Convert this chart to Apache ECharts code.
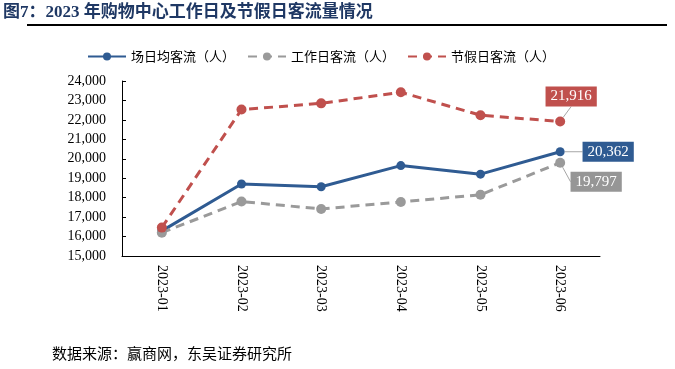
<!DOCTYPE html>
<html>
<head>
<meta charset="utf-8">
<script src="https://cdn.jsdelivr.net/npm/echarts@6/dist/echarts.min.js"></script>
<style>
  html, body { margin: 0; padding: 0; background: #fff; }
  #chart { width: 675px; height: 369px; }
</style>
</head>
<body>
<div id="chart"></div>
<script>
const months = ['2023-01', '2023-02', '2023-03', '2023-04', '2023-05', '2023-06'];
const avgDaily = [16290, 18700, 18560, 19650, 19210, 20362];
const workday = [16200, 17800, 17420, 17780, 18150, 19797];
const holiday = [16460, 22530, 22850, 23420, 22240, 21916];
const yTicks = [15000, 24000, 1000];

const serif = '"Liberation Serif", "Noto Sans CJK SC", serif';
const cjk = '"Noto Sans CJK SC", sans-serif';

// only the last point carries a value box
function withLastLabel(values, bg) {
  return values.map(function (v, i) {
    if (i !== values.length - 1) return v;
    return {
      value: v,
      label: {
        show: true,
        position: 'inside',
        formatter: function (p) { return p.value.toLocaleString('en-US'); },
        color: '#fff',
        fontFamily: serif,
        fontSize: 15,
        backgroundColor: bg,
        padding: [3, 5, 2, 5]
      }
    };
  });
}

function lastOffset(dx, dy) {
  return function (params) {
    if (params.dataIndex !== months.length - 1) return {};
    return { dx: dx, dy: dy };
  };
}

const chart = echarts.init(document.getElementById('chart'));
chart.setOption({
  animation: false,
  backgroundColor: '#fff',
  title: {
    text: '图7：2023 年购物中心工作日及节假日客流量情况',
    left: 3,
    top: 4,
    padding: 0,
    textStyle: { fontFamily: serif, fontSize: 17, fontWeight: 'bold', color: '#1f3864' }
  },
  graphic: [
    { type: 'line', shape: { x1: 27, y1: 25, x2: 667, y2: 25 }, style: { stroke: '#000', lineWidth: 2 } },
    { type: 'text', left: 52, top: 346, style: { text: '数据来源：赢商网，东吴证券研究所', font: '15px ' + cjk, fill: '#000' } }
  ],
  legend: {
    left: 82,
    top: 45,
    itemWidth: 38,
    itemHeight: 10,
    itemGap: 12,
    textStyle: { fontFamily: cjk, fontSize: 13, color: '#000' }
  },
  grid: { left: 122, right: 75, top: 81, bottom: 113, containLabel: false },
  xAxis: {
    type: 'category',
    data: months,
    boundaryGap: true,
    axisLine: { lineStyle: { color: '#000', width: 1 } },
    axisTick: { inside: true, length: 4, alignWithLabel: false, lineStyle: { color: '#000' } },
    axisLabel: { rotate: -90, margin: 9, color: '#000', fontFamily: serif, fontSize: 14 }
  },
  yAxis: {
    type: 'value',
    min: yTicks[0],
    max: yTicks[1],
    interval: yTicks[2],
    axisLine: { show: true, lineStyle: { color: '#000', width: 1 } },
    axisTick: { show: true, inside: true, length: 4, lineStyle: { color: '#000' } },
    splitLine: { show: false },
    axisLabel: {
      margin: 16,
      color: '#000',
      fontFamily: serif,
      fontSize: 14,
      formatter: function (v) { return v.toLocaleString('en-US'); }
    }
  },
  series: [
    {
      name: '场日均客流（人）',
      type: 'line',
      data: withLastLabel(avgDaily, '#2f5b92'),
      symbol: 'circle',
      symbolSize: 9,
      lineStyle: { color: '#2f5b92', width: 3 },
      itemStyle: { color: '#2f5b92' },
      labelLayout: lastOffset(48, 0),
      labelLine: { show: true, lineStyle: { color: '#a6a6a6', width: 1 } }
    },
    {
      name: '工作日客流（人）',
      type: 'line',
      data: withLastLabel(workday, '#969696'),
      symbol: 'circle',
      symbolSize: 10,
      lineStyle: { color: '#9a9a9a', width: 3, type: [9, 6] },
      itemStyle: { color: '#9a9a9a' },
      labelLayout: lastOffset(36, 19),
      labelLine: { show: true, lineStyle: { color: '#a6a6a6', width: 1 } }
    },
    {
      name: '节假日客流（人）',
      type: 'line',
      data: withLastLabel(holiday, '#c0504d'),
      symbol: 'circle',
      symbolSize: 10,
      lineStyle: { color: '#c0504d', width: 3, type: [9, 6] },
      itemStyle: { color: '#c0504d' },
      labelLayout: lastOffset(11, -25),
      labelLine: { show: true, lineStyle: { color: '#a6a6a6', width: 1 } }
    }
  ]
});
</script>
</body>
</html>
